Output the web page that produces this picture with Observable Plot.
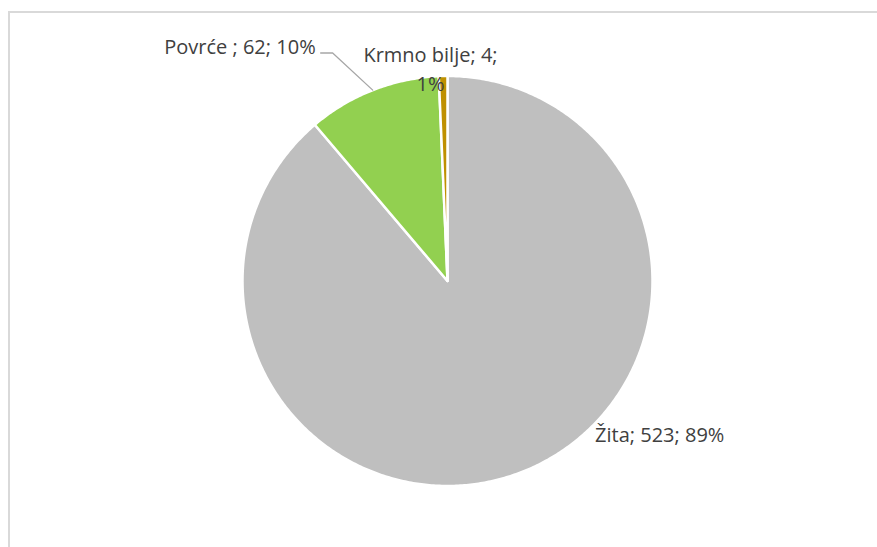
<!DOCTYPE html>
<html>
<head>
<meta charset="utf-8">
<script src="https://cdn.jsdelivr.net/npm/d3@7"></script>
<script src="https://cdn.jsdelivr.net/npm/@observablehq/plot@0.6"></script>
<style>
  html, body { margin: 0; padding: 0; background: #fff; }
  #wrap { position: relative; width: 877px; height: 547px; overflow: hidden; }
  #frame { position: absolute; left: 8px; top: 11px; width: 900px; height: 600px;
           border-left: 2px solid #d9d9d9; border-top: 2px solid #d9d9d9; box-sizing: border-box; }
  #chart { position: absolute; left: 0; top: 0; }
</style>
</head>
<body>
<div id="wrap"><div id="frame"></div><div id="chart"></div></div>
<script>
// Data
const categories = ["Žita", "Povrće", "Krmno bilje"];
const values = [523, 62, 4];
const percentLabels = ["89%", "10%", "1%"];
const colors = ["#bfbfbf", "#92d050", "#bf9000"];
const labelTexts = ["Žita; 523; 89%", "Povrće ; 62; 10%", "Krmno bilje; 4;\n1%"];

// Layout (label placement in polar terms relative to the pie: angle in degrees clockwise from north, radius factor)
const labelAngle = [125.6, 330.5, 355.45];
const labelRadius = [1.273, 1.306, 1.045];
const labelAnchor = ["middle", "end", "middle"];

const W = 877, H = 547, CX = 447, CY = 280.5, R = 205;

const pie = d3.pie().sort(null).value(d => d)(values);

// Build slice outlines from pie angles
const slicePts = [];
pie.forEach((p, i) => {
  const n = Math.max(2, Math.ceil((p.endAngle - p.startAngle) / 0.01));
  slicePts.push({name: categories[i], x: 0, y: 0});
  for (let k = 0; k <= n; k++) {
    const a = p.startAngle + (p.endAngle - p.startAngle) * k / n;
    slicePts.push({name: categories[i], x: Math.sin(a), y: Math.cos(a)});
  }
  slicePts.push({name: categories[i], x: 0, y: 0});
});

const labels = labelTexts.map((t, i) => {
  const a = labelAngle[i] * Math.PI / 180;
  return {text: t, x: labelRadius[i] * Math.sin(a), y: labelRadius[i] * Math.cos(a), anchor: labelAnchor[i]};
});

// Leader line for Povrće: from label end to slice middle on the rim
const pv = pie[1];
const mid = (pv.startAngle + pv.endAngle) / 2;
const lab = labels[1];
const leader = [
  {x: lab.x + 5 / R, y: lab.y - 5 / R},
  {x: lab.x + 17 / R, y: lab.y - 5 / R},
  {x: Math.sin(mid), y: Math.cos(mid)}
];

const font = "'Open Sans', sans-serif";

const chart = Plot.plot({
  width: W, height: H,
  margin: 0,
  x: {domain: [-CX / R, (W - CX) / R], axis: null},
  y: {domain: [-(H - CY) / R, CY / R], axis: null},
  color: {domain: categories, range: colors},
  style: {background: "transparent"},
  marks: [
    Plot.line(slicePts, {x: "x", y: "y", z: "name", fill: "name", stroke: "white", strokeWidth: 2.5, strokeLinejoin: "round", curve: "linear"}),
    Plot.line(leader, {x: "x", y: "y", stroke: "#a6a6a6", strokeWidth: 1.3}),
    Plot.text(labels.filter(d => d.anchor === "middle"), {x: "x", y: "y", text: "text", textAnchor: "middle", fill: "#404040", fontSize: 20, fontFamily: font, lineHeight: 1.45}),
    Plot.text(labels.filter(d => d.anchor === "end"), {x: "x", y: "y", text: "text", textAnchor: "end", fill: "#404040", fontSize: 20, fontFamily: font})
  ]
});
document.getElementById("chart").appendChild(chart);
</script>
</body>
</html>
